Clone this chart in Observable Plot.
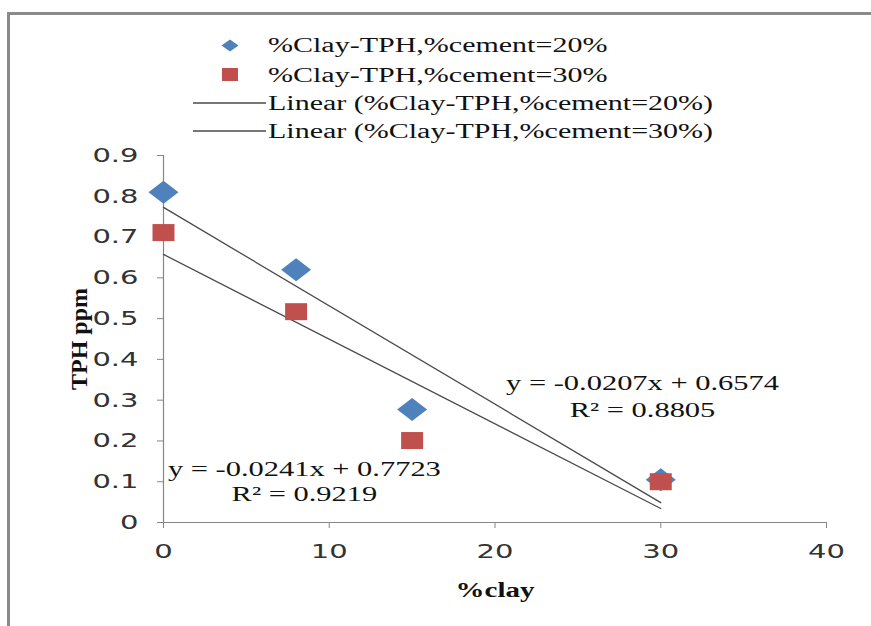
<!DOCTYPE html>
<html>
<head>
<meta charset="utf-8">
<script src="https://cdn.jsdelivr.net/npm/d3@7"></script>
<script src="https://cdn.jsdelivr.net/npm/@observablehq/plot@0.6"></script>
<style>
  html, body { margin: 0; padding: 0; background: #fff; }
  #wrap { position: relative; width: 871px; height: 626px; overflow: hidden; background: #fff; }
  #frame { position: absolute; left: 7px; top: 12px; right: -10px; bottom: -10px;
           border-top: 3px solid #8a8a8a; border-left: 3px solid #8a8a8a; pointer-events: none; }
  #legend { position: absolute; left: 0; top: 0; }
  #chart { position: absolute; left: 0; top: 0; }
</style>
</head>
<body>
<div id="wrap"><div id="chart"></div><svg id="legend" width="871" height="150"></svg><div id="frame"></div></div>
<script>
// ---- data ----
const clay = [0, 8, 15, 30];
const tphCement20 = [0.81, 0.62, 0.277, 0.105];
const tphCement30 = [0.711, 0.517, 0.201, 0.10];
const xTicks = [0, 10, 20, 30, 40];
const yTicks = [0, 0.1, 0.2, 0.3, 0.4, 0.5, 0.6, 0.7, 0.8, 0.9];
const seriesNames = ["%Clay-TPH,%cement=20%", "%Clay-TPH,%cement=30%",
                     "Linear (%Clay-TPH,%cement=20%)", "Linear (%Clay-TPH,%cement=30%)"];
const eqText = ["y = -0.0207x + 0.6574", "R² = 0.8805", "y = -0.0241x + 0.7723", "R² = 0.9219"];
const eqX = [28.9, 28.9, 8.5, 8.5];
const eqY = [0.341, 0.275, 0.130, 0.069];
const xLabel = "%clay";
const yLabel = "TPH ppm";

const blue = "#4F81BD", red = "#C0504D", axisGray = "#868686", lineGray = "#4a4a4a";

const s20 = clay.map((x, i) => ({x, y: tphCement20[i]}));
const s30 = clay.map((x, i) => ({x, y: tphCement30[i]}));
const eqs = eqText.map((t, i) => ({t, x: eqX[i], y: eqY[i]}));

const diamondSym = {draw(ctx) { const w = 15, h = 11.5;
  ctx.moveTo(0, -h); ctx.lineTo(w, 0); ctx.lineTo(0, h); ctx.lineTo(-w, 0); ctx.closePath(); }};
const squareSym = {draw(ctx) { ctx.rect(-11, -8.5, 22, 17); }};

const serif = "Liberation Serif, Times New Roman, serif";

const chart = Plot.plot({
  width: 871, height: 626,
  marginLeft: 163, marginRight: 45, marginTop: 155, marginBottom: 104,
  x: {domain: [0, 40]},
  y: {domain: [0, 0.9]},
  style: {fontFamily: "DejaVu Sans, sans-serif", fontSize: "20px", background: "transparent", color: "#333"},
  marks: [
    Plot.ruleY([0], {stroke: axisGray, strokeWidth: 1.2}),
    Plot.ruleX([0], {stroke: axisGray, strokeWidth: 1.2}),
    Plot.axisX({ticks: xTicks, tickFormat: d => String(d), tickSize: 6, tickPadding: 15, stroke: axisGray, fill: "#333", label: null, fontSize: 20}),
    Plot.axisY({ticks: yTicks, tickFormat: d => String(d), tickSize: 6, tickPadding: 19, stroke: axisGray, fill: "#333", label: null, fontSize: 20}),
    Plot.linearRegressionY(s20, {x: "x", y: "y", ci: 0, stroke: lineGray, strokeWidth: 1.3}),
    Plot.linearRegressionY(s30, {x: "x", y: "y", ci: 0, stroke: lineGray, strokeWidth: 1.3}),
    Plot.dot(s20, {x: "x", y: "y", symbol: diamondSym, r: 10, fill: blue}),
    Plot.dot(s30, {x: "x", y: "y", symbol: squareSym, r: 10, fill: red}),
    Plot.text(eqs, {x: "x", y: "y", text: "t", fontFamily: serif, fontSize: 21, fill: "#111",
                    textAnchor: "middle", lineAnchor: "middle"}),
    Plot.text([xLabel], {frameAnchor: "bottom", dy: 68, fontFamily: serif, fontWeight: "bold",
                         fontSize: 20, fill: "#111", lineAnchor: "middle"}),
    Plot.text([yLabel], {frameAnchor: "left", dx: -84, rotate: -90, fontFamily: serif, fontWeight: "bold",
                         fontSize: 24, fill: "#111", textAnchor: "middle", lineAnchor: "middle"})
  ]
});
document.getElementById("chart").append(chart);

// ---- legend ----
const lg = d3.select("#legend");
const rows = [45, 75, 103, 131];
lg.append("path").attr("d", "M230,39.5 L238.5,45.5 L230,51.5 L221.5,45.5 Z").attr("fill", blue);
lg.append("rect").attr("x", 222).attr("y", 68).attr("width", 16).attr("height", 13).attr("fill", red);
lg.append("line").attr("x1", 193).attr("x2", 266).attr("y1", rows[2]).attr("y2", rows[2]).attr("stroke", lineGray).attr("stroke-width", 1.3);
lg.append("line").attr("x1", 193).attr("x2", 266).attr("y1", rows[3]).attr("y2", rows[3]).attr("stroke", lineGray).attr("stroke-width", 1.3);
lg.selectAll("text.lt").data(seriesNames).join("text")
  .attr("class", "lt")
  .attr("x", 268).attr("y", (d, i) => rows[i]).attr("dy", "0.35em")
  .attr("font-family", serif).attr("font-size", 20).attr("fill", "#111")
  .text(d => d);

// ---- horizontal stretch to mimic the reference's wide lettering ----
function stretch(el, k) {
  const len = el.getComputedTextLength();
  if (len > 0) {
    el.setAttribute("textLength", (len * k).toFixed(1));
    el.setAttribute("lengthAdjust", "spacingAndGlyphs");
  }
}
chart.querySelectorAll("text").forEach(el => {
  const tr = el.getAttribute("transform") || "";
  if (tr.includes("rotate")) return;
  const ff = getComputedStyle(el).fontFamily;
  stretch(el, /Serif/i.test(ff) ? 1.45 : 1.22);
});
document.querySelectorAll("#legend text").forEach(el => stretch(el, 1.5));
</script>
</body>
</html>
